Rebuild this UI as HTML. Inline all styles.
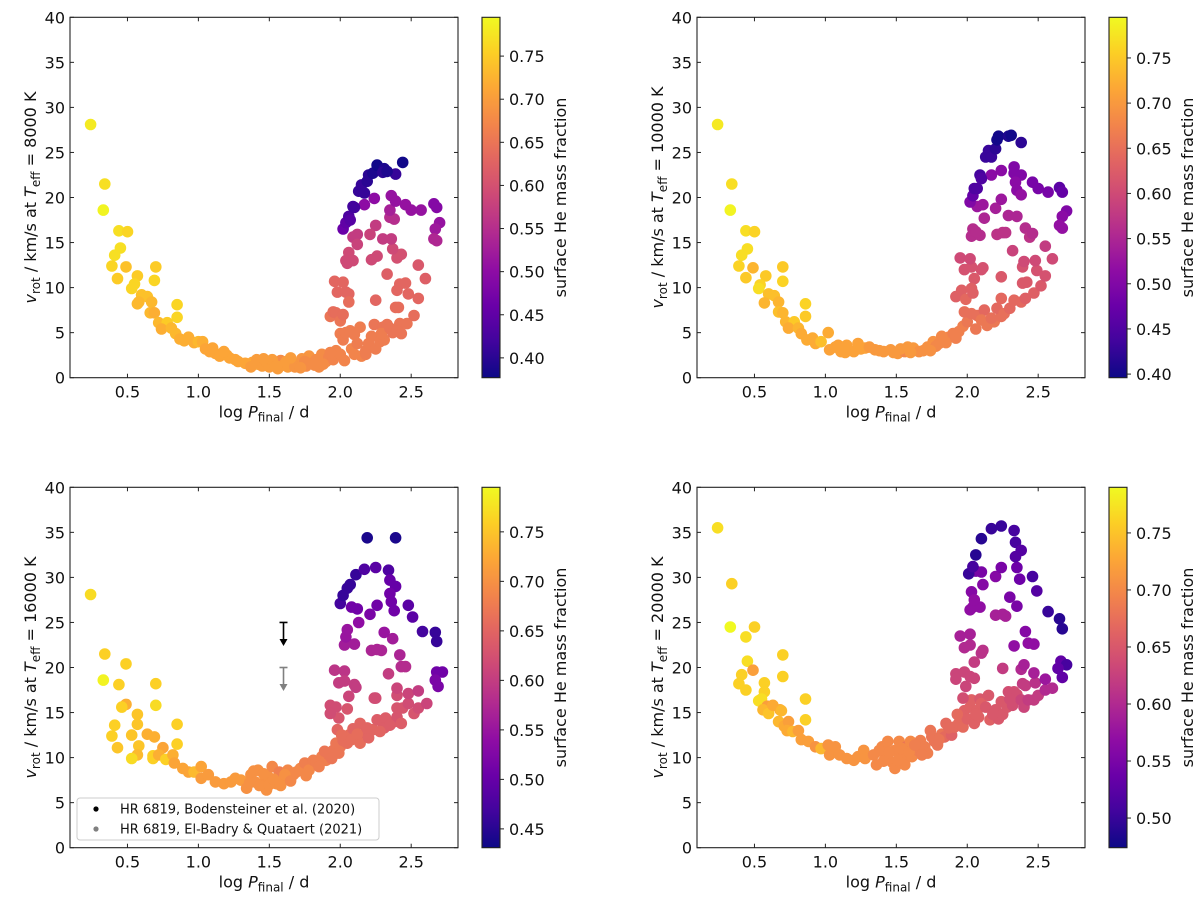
<!DOCTYPE html>
<html><head><meta charset="utf-8">
<style>
html,body{margin:0;padding:0;background:#fff;}
svg{display:block;font-family:"DejaVu Sans","Liberation Sans",sans-serif;}
</style></head>
<body>
<svg id="fig" width="1200" height="899" viewBox="0 0 1200 899" xmlns="http://www.w3.org/2000/svg"></svg>
<script>
// ---------- data: [logP, vrot, He fraction] ----------
const pts8000 = [[0.24,28.1,.78],[0.34,21.5,.77],[0.33,18.6,.79],[0.44,16.3,.77],[0.5,16.2,.76],[0.45,14.4,.77],[0.41,13.6,.77],[0.39,12.4,.76],[0.49,12.3,.74],[0.43,11.0,.75],[0.57,11.3,.75],[0.7,12.3,.75],[0.69,10.8,.76],[0.55,10.4,.76],[0.53,9.9,.76],[0.6,9.2,.74],[0.64,9.0,.74],[0.58,8.4,.73],[0.57,8.2,.73],[0.67,8.4,.73],[0.66,7.2,.73],[0.69,7.2,.72],[0.85,8.1,.76],[0.85,6.7,.76],[0.72,6.1,.73],[0.78,6.1,.75],[0.74,5.4,.72],[0.81,5.5,.73],[0.84,4.9,.73],[0.87,4.3,.72],[0.9,4.1,.72],[0.93,4.5,.72],[0.97,3.9,.72],[1.0,4.0,.73],[1.03,4.0,.72],[1.05,3.2,.71],[1.08,2.9,.71],[1.12,2.7,.71],[1.15,2.4,.71],[1.2,2.5,.71],[1.22,2.2,.71],[1.26,2.0,.71],[1.28,1.8,.71],[1.33,1.6,.71],[1.38,1.7,.71],[1.42,1.5,.71],[1.45,1.3,.70],[1.48,1.7,.70],[1.5,1.2,.70],[1.53,1.6,.70],[1.56,1.0,.70],[1.58,1.9,.68],[1.6,1.4,.70],[1.63,1.2,.70],[1.66,1.7,.70],[1.7,1.5,.69],[1.73,2.1,.69],[1.76,1.3,.68],[1.78,2.4,.69],[1.8,1.6,.68],[1.83,2.0,.68],[1.85,1.2,.68],[1.87,2.6,.68],[1.9,1.8,.68],[1.92,2.3,.67],[1.95,2.0,.67],[1.97,3.0,.67],[2.0,2.6,.67],[2.03,1.9,.67],[1.37,1.2,.70],[1.41,2.0,.70],[1.52,2.0,.70],[1.55,1.3,.70],[1.62,1.8,.70],[1.68,1.2,.69],[1.75,1.8,.68],[1.82,1.4,.68],[1.1,3.3,.71],[1.18,2.9,.71],[1.46,2.1,.70],[1.65,2.2,.70],[1.72,1.1,.69],[1.88,1.5,.68],[1.93,2.8,.67],
[1.93,6.8,.65],[1.95,7.3,.64],[1.97,7.2,.64],[2.0,6.3,.65],[2.02,7.0,.64],[1.96,10.7,.63],[2.02,10.6,.63],[1.98,9.5,.63],[2.04,9.5,.63],[2.06,9.3,.63],[2.06,8.4,.64],[2.0,4.9,.66],[2.02,4.2,.66],[2.04,5.0,.66],[2.07,5.2,.66],[2.1,4.8,.66],[2.14,5.6,.66],[2.08,3.2,.67],[2.1,2.6,.67],[2.12,3.8,.66],[2.15,2.4,.67],[2.18,3.0,.66],[2.2,3.8,.66],[2.22,4.6,.66],[2.18,2.6,.66],[2.24,5.9,.65],[2.25,8.6,.63],[2.25,3.2,.66],[2.28,4.0,.66],[2.3,5.6,.65],[2.31,4.2,.66],[2.33,5.9,.65],[2.29,4.9,.66],[2.35,5.5,.65],[2.37,5.0,.65],[2.39,7.8,.64],[2.41,7.8,.64],[2.42,6.0,.65],[2.4,5.2,.65],[2.43,4.9,.65],[2.47,6.0,.65],[2.52,6.9,.64],[2.48,9.3,.63],[2.46,10.5,.63],[2.4,9.7,.63],[2.42,10.4,.63],[2.33,11.5,.62],[2.55,8.8,.63],[2.55,12.5,.61],[2.6,11.0,.62],[2.4,13.3,.60],[2.43,13.7,.60],[2.37,14.3,.59],[2.26,13.5,.59],[2.22,13.1,.59],[2.25,16.9,.57],[2.21,15.9,.58],[2.12,15.9,.57],[2.09,15.6,.57],[2.12,14.8,.58],[2.06,13.9,.59],[2.04,13.0,.59],[2.05,12.7,.59],[2.09,13.0,.59],[2.3,15.4,.57],[2.36,15.4,.57],[2.35,17.8,.55],[2.38,17.6,.55],[2.35,18.6,.53],[2.36,20.2,.51],[2.39,19.6,.51],[2.24,19.9,.50],[2.17,19.2,.50],[2.46,19.2,.51],[2.5,18.6,.51],[2.57,18.6,.51],[2.66,19.3,.49],[2.68,18.9,.49],[2.7,17.2,.51],[2.67,16.5,.52],[2.66,15.4,.54],[2.68,15.2,.54],[2.02,16.5,.46],[2.04,17.2,.45],[2.06,17.9,.43],[2.07,17.5,.44],[2.09,19.0,.42],[2.1,18.9,.42],[2.13,20.7,.41],[2.15,21.4,.41],[2.17,20.5,.41],[2.19,21.8,.40],[2.2,22.5,.40],[2.23,22.7,.39],[2.26,23.6,.38],[2.31,23.2,.39],[2.3,22.8,.40],[2.39,22.6,.41],[2.44,23.9,.38],[2.33,22.9,.39]];

const pts10000 = [[0.24,28.1,.78],[0.34,21.5,.77],[0.33,18.6,.79],[0.44,16.3,.77],[0.5,16.2,.76],[0.45,14.3,.77],[0.41,13.6,.77],[0.39,12.4,.76],[0.49,12.2,.73],[0.44,11.1,.75],[0.58,11.3,.75],[0.7,12.3,.75],[0.7,10.7,.76],[0.54,10.3,.76],[0.53,9.9,.77],[0.6,9.3,.74],[0.64,9.1,.74],[0.57,8.3,.73],[0.67,8.4,.73],[0.67,7.3,.74],[0.7,7.2,.73],[0.86,8.2,.76],[0.86,6.8,.75],[0.72,6.2,.73],[0.78,6.2,.75],[0.74,5.5,.72],[0.81,5.5,.73],[0.83,4.9,.72],[0.87,4.2,.72],[0.91,4.4,.72],[0.93,3.8,.72],[0.97,4.0,.74],[1.02,5.0,.72],[1.03,3.1,.71],[1.07,3.4,.71],[1.11,2.9,.71],[1.15,3.6,.71],[1.2,2.9,.71],[1.23,3.8,.71],[1.28,3.3,.71],[1.35,3.1,.70],[1.41,2.9,.70],[1.46,3.1,.70],[1.51,2.7,.70],[1.56,2.9,.68],[1.62,3.3,.70],[1.66,2.9,.69],[1.72,3.4,.69],[1.76,4.0,.69],[1.8,3.8,.68],[1.83,4.2,.68],[1.87,4.5,.68],[1.9,4.9,.67],[1.94,5.1,.67],[1.97,5.7,.67],[2.0,6.2,.66],[1.25,3.2,.71],[1.31,3.4,.70],[1.38,3.0,.70],[1.53,3.2,.70],[1.6,2.8,.70],[1.69,3.0,.69],[1.78,3.5,.68],[1.85,3.9,.68],[1.09,3.6,.71],[1.14,2.8,.71],[1.48,2.8,.70],[1.58,3.4,.70],[1.74,3.0,.69],[1.82,4.6,.68],[1.92,4.4,.67],
[1.98,7.3,.65],[2.03,7.1,.65],[2.07,6.9,.65],[2.12,7.5,.64],[2.14,5.8,.66],[2.19,6.2,.66],[2.24,6.8,.65],[2.21,7.7,.64],[2.26,7.1,.65],[2.3,7.7,.64],[2.24,8.8,.64],[2.33,8.6,.64],[2.38,8.4,.64],[2.41,8.8,.63],[2.47,9.4,.63],[2.39,10.5,.62],[2.42,10.6,.62],[2.52,10.2,.62],[2.55,11.3,.61],[2.49,11.9,.61],[2.48,13.0,.60],[2.6,13.2,.60],[2.55,14.6,.58],[2.39,12.3,.61],[2.4,12.9,.60],[2.32,14.1,.59],[2.24,11.2,.62],[2.1,12.0,.61],[2.11,12.2,.61],[2.05,11.0,.62],[1.98,12.0,.61],[2.03,12.3,.61],[1.95,13.3,.60],[2.02,13.2,.60],[1.92,9.0,.63],[1.96,9.7,.63],[1.99,8.7,.64],[2.04,9.4,.63],[2.03,9.9,.63],[2.06,5.4,.66],[2.1,6.4,.66],[2.17,6.6,.65],
[2.03,15.7,.56],[2.04,16.5,.56],[2.09,15.8,.56],[2.06,16.2,.56],[2.12,17.7,.55],[2.21,15.9,.57],[2.25,16.1,.57],[2.27,16.1,.57],[2.29,18.0,.55],[2.35,17.9,.55],[2.41,16.6,.56],[2.44,15.6,.57],[2.46,16.0,.56],[2.2,18.8,.54],[2.24,19.8,.53],[2.07,19.0,.53],[2.11,19.2,.53],[2.02,19.5,.50],[2.17,22.5,.51],[2.24,23.0,.51],[2.33,23.4,.50],[2.33,22.7,.50],[2.38,22.5,.50],[2.34,21.7,.51],[2.35,20.8,.51],[2.38,20.3,.52],[2.46,21.7,.49],[2.5,21.0,.49],[2.57,20.6,.49],[2.65,21.1,.46],[2.67,20.6,.47],[2.7,18.5,.50],[2.67,17.9,.51],[2.65,16.9,.52],[2.67,16.6,.52],
[2.04,20.2,.47],[2.05,21.0,.45],[2.07,21.0,.45],[2.09,22.5,.44],[2.1,22.1,.45],[2.13,24.5,.43],[2.15,25.2,.43],[2.17,24.5,.43],[2.2,25.4,.42],[2.21,26.4,.40],[2.22,26.8,.40],[2.29,26.8,.41],[2.31,26.9,.40],[2.38,26.1,.42]];

const pts16000 = [[0.24,28.1,.77],[0.34,21.5,.76],[0.33,18.6,.79],[0.44,18.1,.76],[0.49,20.4,.76],[0.7,18.2,.76],[0.7,15.8,.77],[0.49,15.9,.73],[0.46,15.6,.76],[0.57,14.8,.75],[0.57,13.7,.75],[0.41,13.6,.76],[0.39,12.4,.76],[0.53,12.5,.75],[0.64,12.6,.73],[0.69,12.3,.73],[0.58,11.3,.75],[0.43,11.1,.75],[0.85,13.7,.76],[0.85,11.5,.76],[0.75,11.1,.72],[0.57,10.3,.74],[0.53,9.9,.77],[0.68,10.2,.76],[0.68,9.9,.76],[0.72,10.3,.73],[0.77,9.8,.76],[0.82,10.3,.73],[0.83,9.4,.72],[0.89,8.8,.72],[0.93,8.4,.72],[0.97,8.4,.74],[1.02,9.0,.72],[1.02,7.7,.71],[1.07,8.1,.71],[1.12,7.3,.71],[1.18,7.1,.71],[1.23,7.3,.71],[1.26,7.7,.71],[1.3,7.5,.71],[1.34,6.6,.70],[1.37,8.1,.70],[1.4,7.3,.70],[1.42,8.6,.70],[1.45,7.1,.70],[1.48,6.4,.70],[1.49,7.9,.70],[1.52,9.0,.69],[1.55,7.1,.70],[1.57,8.4,.68],[1.6,7.5,.70],[1.63,8.6,.69],[1.67,8.1,.69],[1.72,8.8,.69],[1.75,9.4,.68],[1.78,8.6,.69],[1.81,9.7,.68],[1.83,9.5,.68],[1.87,10.1,.68],[1.9,9.7,.68],[1.92,10.3,.67],[1.95,10.8,.67],[1.97,11.6,.67],[2.0,11.2,.67],[2.02,11.9,.66],[2.05,11.6,.66],[2.06,12.5,.66],[2.09,13.2,.65],[1.98,13.1,.65],[2.01,12.5,.66],[2.14,13.8,.65],[2.17,12.7,.65],[2.14,11.6,.66],[2.2,12.2,.65],[2.23,13.1,.65],[2.26,14.2,.64],[2.3,13.8,.64],[2.32,14.4,.64],[2.31,13.3,.64],[2.38,14.0,.64],[2.4,14.5,.63],[2.43,13.8,.64],[2.4,15.5,.63],[2.44,15.5,.63],[2.48,16.0,.62],[2.52,14.9,.63],[2.55,15.5,.62],[2.61,16.0,.61],[2.48,17.1,.61],[2.55,17.4,.60],[2.4,16.9,.62],[2.4,17.7,.61],[2.24,16.6,.62],[2.34,19.3,.60],[2.43,20.1,.58],[2.46,20.1,.58],[2.42,21.4,.57],[2.37,23.2,.56],[2.31,23.9,.55],[2.22,21.9,.57],[2.29,21.9,.57],[2.26,22.0,.57],[2.1,22.6,.56],[2.03,22.5,.56],[2.04,23.4,.55],[2.05,24.2,.55],[2.13,25.0,.54],[2.21,25.9,.52],[2.26,26.9,.51],[2.08,26.7,.51],[2.12,26.5,.51],[1.96,19.7,.59],[2.03,19.6,.59],[1.99,18.3,.60],[2.03,18.5,.60],[2.1,18.1,.60],[2.11,17.8,.60],[2.06,16.8,.61],[2.25,16.6,.62],[1.93,15.8,.62],[1.97,15.6,.62],[2.05,15.4,.63],[1.99,14.4,.63],[1.93,14.9,.62],
[1.36,7.2,.70],[1.39,8.5,.70],[1.43,6.9,.70],[1.46,8.2,.70],[1.5,7.0,.70],[1.53,7.6,.70],[1.58,6.9,.70],[1.61,8.1,.70],[1.65,7.4,.69],[1.69,8.4,.69],[1.76,8.0,.69],[1.85,9.0,.68],[1.89,10.7,.67],[1.94,9.9,.67],[1.99,10.5,.67],[2.08,12.0,.66],[2.12,12.6,.66],[2.19,13.3,.65],[2.28,12.9,.65],[2.35,13.6,.64],
[2.0,27.1,.47],[2.02,28.0,.46],[2.05,28.8,.46],[2.07,29.2,.46],[2.11,30.3,.46],[2.17,30.9,.48],[2.25,31.1,.49],[2.34,30.8,.48],[2.35,29.7,.50],[2.39,29.0,.50],[2.35,28.2,.51],[2.36,27.3,.51],[2.38,26.3,.51],[2.48,26.9,.49],[2.51,25.6,.49],[2.58,24.0,.47],[2.67,23.9,.46],[2.68,22.9,.46],[2.68,19.5,.51],[2.72,19.5,.51],[2.67,18.6,.52],[2.69,17.9,.52],[2.19,34.4,.44],[2.39,34.4,.44]];

const pts20000 = [[0.24,35.5,.77],[0.34,29.3,.76],[0.33,24.5,.79],[0.5,24.5,.76],[0.44,23.4,.77],[0.45,20.7,.77],[0.41,19.2,.76],[0.49,19.7,.72],[0.39,18.2,.76],[0.44,17.5,.76],[0.57,18.3,.76],[0.57,17.3,.76],[0.7,21.4,.76],[0.7,19.0,.76],[0.53,16.3,.77],[0.55,16.5,.77],[0.86,16.5,.76],[0.86,14.2,.76],[0.59,15.7,.72],[0.56,15.3,.74],[0.6,14.9,.75],[0.63,15.8,.73],[0.68,15.3,.73],[0.69,15.2,.74],[0.67,14.0,.74],[0.71,13.5,.73],[0.74,14.0,.72],[0.73,13.0,.73],[0.77,12.9,.74],[0.81,13.0,.72],[0.83,12.0,.72],[0.88,11.8,.72],[0.93,11.2,.71],[0.97,11.0,.74],[1.02,11.4,.71],[1.03,10.3,.71],[1.07,11.2,.71],[1.1,10.3,.71],[1.15,9.9,.71],[1.2,9.7,.71],[1.23,10.1,.71],[1.27,10.8,.71],[1.28,9.9,.71],[1.34,10.3,.70],[1.36,9.2,.70],[1.4,11.2,.70],[1.42,10.1,.70],[1.44,11.8,.70],[1.47,9.5,.70],[1.49,8.8,.70],[1.49,10.8,.70],[1.52,11.8,.70],[1.55,10.1,.70],[1.56,9.2,.70],[1.57,11.2,.68],[1.6,11.8,.70],[1.61,10.1,.70],[1.65,10.8,.69],[1.67,11.9,.69],[1.7,11.2,.69],[1.72,10.5,.69],[1.74,13.0,.68],[1.77,11.8,.68],[1.79,11.4,.68],[1.82,12.6,.68],[1.84,12.3,.67],[1.85,13.8,.67],[1.88,12.9,.67],[1.89,12.5,.66],[1.91,13.4,.67],[1.94,13.8,.67],[1.96,14.5,.67],[1.97,13.4,.67],[1.98,15.2,.66],[2.0,14.3,.66],[2.02,15.6,.66],[2.03,16.4,.66],[2.05,13.8,.66],[2.07,15.2,.66],[2.09,16.5,.65],[2.1,16.0,.66],[2.08,14.5,.66],[2.15,16.9,.65],[2.16,14.2,.66],[2.2,15.3,.65],[2.22,14.3,.65],[2.24,16.2,.65],[2.25,14.8,.65],[2.28,15.6,.65],[2.29,17.3,.64],[2.32,15.8,.64],[2.33,17.3,.64],[2.35,17.0,.64],[2.38,16.4,.63],[2.4,15.6,.63],[2.43,16.4,.62],[2.47,16.4,.62],[2.5,16.9,.62],[2.55,17.5,.60],[2.6,17.7,.60],[2.39,18.2,.62],[2.41,18.0,.62],[2.48,18.3,.61],[2.55,18.7,.58],[2.47,19.4,.59],[2.38,19.8,.60],[2.4,20.3,.59],[2.25,19.9,.62],[1.92,19.3,.63],[1.98,19.5,.63],[1.92,18.7,.63],[2.02,19.0,.63],[2.05,18.8,.63],[1.99,17.9,.63],[1.97,16.6,.64],
[1.38,10.8,.70],[1.41,9.6,.70],[1.45,10.6,.70],[1.51,9.7,.70],[1.54,11.0,.70],[1.59,10.6,.70],[1.63,11.4,.69],[1.68,10.3,.69],[1.75,12.3,.68],[1.8,12.0,.68],[1.87,13.3,.67],[1.93,14.8,.67],[2.06,14.8,.66],[2.13,15.6,.65],[2.18,14.8,.65],[2.3,16.5,.64],
[2.05,20.6,.62],[2.11,21.9,.61],[2.1,21.6,.61],[1.98,22.2,.60],[2.02,22.5,.60],[2.02,23.7,.59],[1.95,23.5,.59],[2.41,24.0,.56],[2.43,22.7,.57],[2.47,22.6,.57],[2.33,22.4,.57],[2.02,26.4,.57],[2.04,26.7,.57],[2.09,26.7,.57],[2.03,28.4,.56],[2.05,27.5,.57],[2.2,25.8,.59],[2.25,25.9,.59],[2.27,25.7,.59],[2.3,27.8,.55],[2.35,26.8,.55],[2.2,30.1,.56],[2.24,31.1,.55],[2.11,29.2,.56],[2.06,30.7,.55],[2.1,30.6,.55],[2.35,31.1,.54],[2.37,29.8,.54],[2.46,30.1,.51],[2.49,28.5,.52],[2.57,26.2,.50],[2.65,25.4,.49],[2.67,24.3,.49],[2.66,20.7,.53],[2.7,20.3,.51],[2.64,19.9,.53],[2.67,18.9,.53],
[2.01,30.4,.50],[2.04,31.2,.51],[2.06,32.5,.49],[2.1,34.3,.49],[2.17,35.4,.50],[2.24,35.7,.50],[2.33,35.2,.51],[2.34,33.9,.51],[2.38,33.0,.52],[2.34,32.3,.52]];

const xTicks = [0.5,1.0,1.5,2.0,2.5];
const xTickLabels = ["0.5","1.0","1.5","2.0","2.5"];
const yTicks = [0,5,10,15,20,25,30,35,40];
const cbTicks1 = [0.40,0.45,0.50,0.55,0.60,0.65,0.70,0.75];
const cbTicks2 = [0.40,0.45,0.50,0.55,0.60,0.65,0.70,0.75];
const cbTicks3 = [0.45,0.50,0.55,0.60,0.65,0.70,0.75];
const cbTicks4 = [0.50,0.55,0.60,0.65,0.70,0.75];
const hrBoden = [1.6, 25.0, 22.5];
const hrElBadry = [1.6, 20.0, 17.5];

// ---------- rendering ----------
const NS = "http://www.w3.org/2000/svg";
const fig = document.getElementById('fig');
const plasma = ["#0d0887","#41049d","#6a00a8","#8f0da4","#b12a90","#cc4778","#e16462","#f2844b","#fca636","#fcce25","#f0f921"];
function hex(h){return [parseInt(h.substr(1,2),16),parseInt(h.substr(3,2),16),parseInt(h.substr(5,2),16)];}
function cmap(t){t=Math.max(0,Math.min(1,t));const f=t*10,i=Math.min(9,Math.floor(f)),u=f-i;const a=hex(plasma[i]),b=hex(plasma[i+1]);return `rgb(${a.map((v,k)=>Math.round(v+(b[k]-v)*u)).join(',')})`;}
function mk(tag,attrs,parent){const e=document.createElementNS(NS,tag);for(const k in attrs)e.setAttribute(k,attrs[k]);(parent||fig).appendChild(e);return e;}

const XMIN=0.095, XMAX=2.83, YMIN=0, YMAX=40, W=388, H=360.4;
const FS=16;

function panel(ox, oy, pts, temp, vmin, vmax, cbt, name){
  const g = mk('g',{});
  
  
  const sx = v => ox + (v-XMIN)/(XMAX-XMIN)*W;
  const sy = v => oy + H - (v-YMIN)/(YMAX-YMIN)*H;
  const clip = mk('clipPath',{id:'clip'+name},g);
  mk('rect',{x:ox,y:oy,width:W,height:H},clip);
  const pg = mk('g',{'clip-path':`url(#clip${name})`},g);
  
  
  pts.forEach(p=>{
    const c = mk('circle',{cx:sx(p[0]).toFixed(1),cy:sy(p[1]).toFixed(1),r:5.8,fill:cmap((p[2]-vmin)/(vmax-vmin))},pg);
    
    
  });
  const fr = mk('rect',{x:ox,y:oy,width:W,height:H,fill:'none',stroke:'#222','stroke-width':1.1},g);
  
  
  xTicks.forEach((t,i)=>{
    const x=sx(t);
    mk('line',{x1:x,x2:x,y1:oy+H,y2:oy+H-4,stroke:'#222'},g);
    mk('line',{x1:x,x2:x,y1:oy,y2:oy+4,stroke:'#222'},g);
    const tl = mk('text',{x:x,y:oy+H+20,'font-size':FS,'text-anchor':'middle',fill:'#111'},g);
    tl.textContent = xTickLabels[i];
    
    
  });
  yTicks.forEach(t=>{
    const y=sy(t);
    mk('line',{x1:ox,x2:ox+4,y1:y,y2:y,stroke:'#222'},g);
    mk('line',{x1:ox+W,x2:ox+W-4,y1:y,y2:y,stroke:'#222'},g);
    const tl = mk('text',{x:ox-5,y:y+6,'font-size':FS,'text-anchor':'end',fill:'#111'},g);
    tl.textContent = String(t);
    
    
  });
  const xl = mk('text',{x:ox+W/2,y:oy+H+40,'font-size':FS,'text-anchor':'middle',fill:'#111'},g);
  xl.innerHTML = 'log <tspan font-style="italic">P</tspan><tspan font-size="12" dy="4">final</tspan><tspan dy="-4"> / d</tspan>';
  
  
  const yl = mk('text',{x:0,y:0,'font-size':FS,'text-anchor':'middle',fill:'#111',transform:`translate(${ox-34},${oy+H/2}) rotate(-90)`},g);
  yl.innerHTML = '<tspan font-style="italic">v</tspan><tspan font-size="12" dy="4">rot</tspan><tspan dy="-4"> / km/s at </tspan><tspan font-style="italic">T</tspan><tspan font-size="12" dy="4">eff</tspan><tspan dy="-4"> = '+temp+' K</tspan>';
  
  
  const cx = ox+W+24, cw = 18;
  const gid = 'grad'+name;
  const grad = mk('linearGradient',{id:gid,x1:0,y1:1,x2:0,y2:0},g);
  for(let i=0;i<=20;i++){mk('stop',{offset:i/20,'stop-color':cmap(i/20)},grad);}
  const cb = mk('rect',{x:cx,y:oy,width:cw,height:H,fill:`url(#${gid})`,stroke:'#222','stroke-width':1.1},g);
  
  
  cbt.forEach(t=>{
    const y = oy+H-(t-vmin)/(vmax-vmin)*H;
    mk('line',{x1:cx+cw,x2:cx+cw+4,y1:y,y2:y,stroke:'#222'},g);
    const tl = mk('text',{x:cx+cw+9,y:y+6,'font-size':FS,fill:'#111'},g);
    tl.textContent = t.toFixed(2);
    
    
  });
  const cl = mk('text',{x:0,y:0,'font-size':FS,'text-anchor':'middle',fill:'#111',transform:`translate(${cx+84},${oy+H/2}) rotate(-90)`},g);
  cl.textContent = 'surface He mass fraction';
  
  
  return {sx,sy,g};
}

panel(70,17.3,pts8000,'8000',0.377,0.795,cbTicks1,'panel-8000k');
panel(697,17.3,pts10000,'10000',0.396,0.795,cbTicks2,'panel-10000k');
const p3 = panel(70,487.3,pts16000,'16000',0.431,0.795,cbTicks3,'panel-16000k');
panel(697,487.3,pts20000,'20000',0.474,0.790,cbTicks4,'panel-20000k');

function arrow(d,color,name){
  const x=p3.sx(d[0]), y1=p3.sy(d[1]), y2=p3.sy(d[2]);
  const a = mk('g',{},p3.g);
  
  
  mk('line',{x1:x-4,x2:x+4,y1:y1,y2:y1,stroke:color,'stroke-width':1.6},a);
  mk('line',{x1:x,x2:x,y1:y1,y2:y2-5,stroke:color,'stroke-width':1.6},a);
  mk('path',{d:`M${x-4},${y2-6} L${x+4},${y2-6} L${x},${y2+1} Z`,fill:color},a);
}
arrow(hrBoden,'#000','arrow-bodensteiner');
arrow(hrElBadry,'#808080','arrow-el-badry');

const lg = mk('g',{},p3.g);


mk('rect',{x:77,y:798,width:302,height:42,rx:3,fill:'#fff','fill-opacity':0.85,stroke:'#ccc'},lg);
[['#000','HR 6819, Bodensteiner et al. (2020)',809],['#808080','HR 6819, El-Badry & Quataert (2021)',829]].forEach(e=>{
  const it = mk('g',{},lg);
  
  
  mk('circle',{cx:96,cy:e[2],r:2.6,fill:e[0]},it);
  const t = mk('text',{x:120,y:e[2]+4.5,'font-size':13,fill:'#111'},it);
  t.textContent = e[1];
});
</script>
</body></html>
